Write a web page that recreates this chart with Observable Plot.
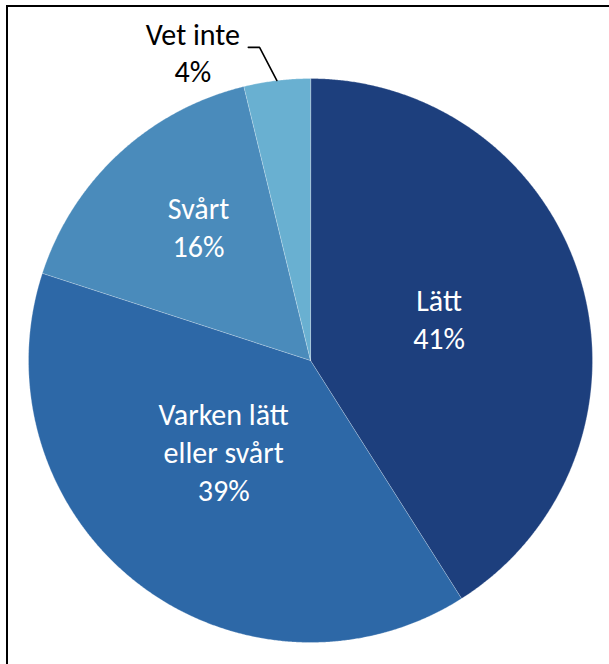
<!DOCTYPE html>
<html>
<head>
<meta charset="utf-8">
<script src="https://cdn.jsdelivr.net/npm/d3@7"></script>
<script src="https://cdn.jsdelivr.net/npm/@observablehq/plot@0.6"></script>
<style>
  html, body { margin: 0; padding: 0; background: #fff; overflow: hidden; }
  #wrap { position: relative; width: 609px; height: 664px; }
  #frame { position: absolute; left: 6px; top: 5px; width: 700px; height: 700px;
           border: 2px solid #000; pointer-events: none; box-sizing: border-box; }
  #chart { position: absolute; left: 0; top: 0; }
</style>
</head>
<body>
<div id="wrap"><div id="chart"></div><div id="frame"></div></div>
<script>
// ---- data ----
const categories = ["Lätt", "Varken lätt eller svårt", "Svårt", "Vet inte"];
const labelLines = ["Lätt", "Varken lätt\neller svårt", "Svårt", "Vet inte"];
const shares = [41, 39, 16.2, 3.8];
const shownPercent = [41, 39, 16, 4];
const colors = ["#1d3f7d", "#2d68a7", "#4a8bbb", "#69b0d1"];

// ---- layout (label placement, not data) ----
const labelRadius = [0.48, 0.445, 0.62, 1.172];
const labelShiftDeg = [-2, 6, 3, -14];
const outside = [false, false, false, true];

const arcs = d3.pie().sort(null).value(d => d)(shares);
const polar = (r, a) => ({x: r * Math.sin(a), y: r * Math.cos(a)});

const slicePts = [];
arcs.forEach((a, i) => {
  slicePts.push({cat: categories[i], ...polar(0, 0)});
  const n = Math.max(4, Math.ceil((a.endAngle - a.startAngle) / 0.005));
  for (let k = 0; k <= n; k++) {
    const t = a.startAngle + (a.endAngle - a.startAngle) * k / n;
    slicePts.push({cat: categories[i], ...polar(1, t)});
  }
});

const labels = arcs.map((a, i) => {
  const mid = (a.startAngle + a.endAngle) / 2 + labelShiftDeg[i] * Math.PI / 180;
  return {...polar(labelRadius[i], mid), text: labelLines[i] + "\n" + shownPercent[i] + "%", outside: outside[i]};
});

// leader line for the outside label
const leader = [];
arcs.forEach((a, i) => {
  if (!outside[i]) return;
  const mid = (a.startAngle + a.endAngle) / 2;
  const p0 = polar(1, mid);
  const p1 = polar(1.125, mid - 2.4 * Math.PI / 180);
  leader.push(p0, p1, {x: p1.x - 0.04, y: p1.y});
});

const font = "Carlito, Lato, sans-serif";
const chart = Plot.plot({
  width: 609,
  height: 664,
  margin: 0,
  style: {fontFamily: font, background: "transparent"},
  x: {domain: [-1, 1], range: [28, 592], axis: null},
  y: {domain: [-1, 1], range: [642, 78], axis: null},
  color: {domain: categories, range: colors},
  marks: [
    Plot.line(slicePts, {x: "x", y: "y", z: "cat", fill: "cat", stroke: "#ffffff", strokeWidth: 0.6, strokeOpacity: 0.45, curve: "linear-closed"}),
    Plot.line(leader, {x: "x", y: "y", stroke: "#000", strokeWidth: 1.6}),
    Plot.text(labels.filter(d => !d.outside), {x: "x", y: "y", text: "text", fill: "#fff", fontSize: 30, fontWeight: 500, lineHeight: 1.27, fontFamily: font}),
    Plot.text(labels.filter(d => d.outside), {x: "x", y: "y", text: "text", fill: "#000", fontSize: 30, fontWeight: 500, lineHeight: 1.22, fontFamily: font})
  ]
});
document.getElementById("chart").appendChild(chart);
</script>
</body>
</html>
